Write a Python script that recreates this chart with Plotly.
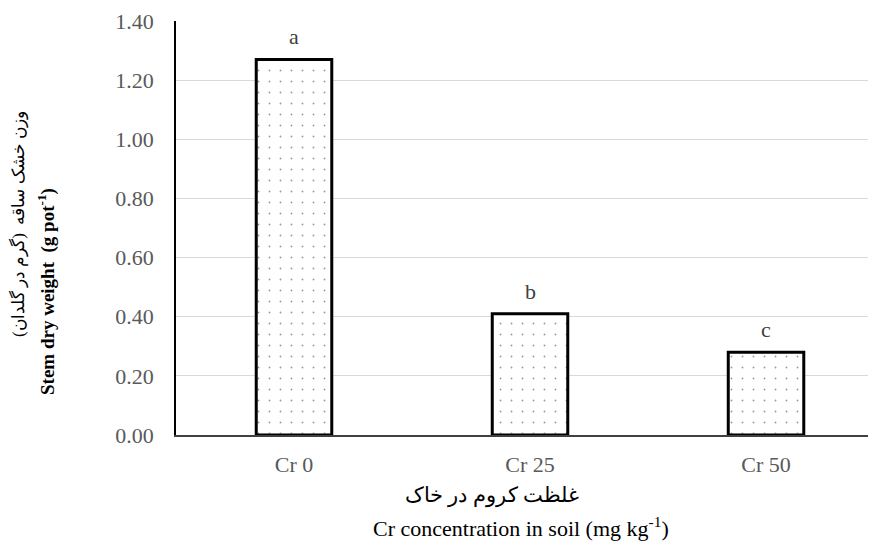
import plotly.graph_objects as go

categories = ["Cr 0", "Cr 25", "Cr 50"]
values = [1.27, 0.41, 0.28]
letters = ["a", "b", "c"]
y_ticks = [0, 0.2, 0.4, 0.6, 0.8, 1.0, 1.2, 1.4]

W, H = 876, 550
OFF = 8  # page body margin offset
L, T = 176 - OFF, 21 - OFF
B = H - (435 - OFF)
R = W - (876 - OFF)

serif = "Liberation Serif"

fig = go.Figure()
fig.add_trace(go.Bar(
    x=categories, y=values, width=0.32,
    marker=dict(
        color="white",
        line=dict(color="black", width=3),
        pattern=dict(shape=".", size=11, solidity=0.022, fgcolor="#333333", bgcolor="white"),
    ),
    showlegend=False, hoverinfo="skip",
))

for c, v, t in zip(categories, values, letters):
    fig.add_annotation(x=c, y=v, text=t, showarrow=False, yanchor="bottom", yshift=8,
                       font=dict(family=serif, size=22, color="#404040"))

# y titles
fig.add_annotation(xref="paper", yref="paper", x=0, y=0, xanchor="center", yanchor="middle",
                   xshift=(18 - OFF) - L, yshift=(H - B) - (224 - OFF), textangle=-90, showarrow=False,
                   text="وزن خشک ساقه  (گرم در گلدان)",
                   font=dict(family=serif, size=17, color="black"))
fig.add_annotation(xref="paper", yref="paper", x=0, y=0, xanchor="center", yanchor="middle",
                   xshift=(46 - OFF) - L, yshift=(H - B) - (292 - OFF), textangle=-90, showarrow=False,
                   text="<b>Stem dry weight  (g pot<sup>-1</sup>)</b>",
                   font=dict(family=serif, size=19, color="black"))
# x titles
fig.add_annotation(xref="paper", yref="paper", x=0, y=0, xanchor="center", yanchor="middle",
                   xshift=(492 - OFF) - L, yshift=-((495 - OFF) - (H - B)), showarrow=False,
                   text="غلظت کروم در خاک",
                   font=dict(family=serif, size=21, color="black"))
fig.add_annotation(xref="paper", yref="paper", x=0, y=0, xanchor="center", yanchor="middle",
                   xshift=(521 - OFF) - L, yshift=-((527 - OFF) - (H - B)), showarrow=False,
                   text="Cr concentration in soil (mg kg<sup>-1</sup>)",
                   font=dict(family=serif, size=22, color="black"))

fig.update_layout(
    width=W, height=H,
    margin=dict(l=L, r=R, t=T, b=B, autoexpand=False),
    paper_bgcolor="white", plot_bgcolor="white",
    xaxis=dict(range=[-0.5, 2.466], showgrid=False, showline=True, linecolor="#404040", linewidth=1.5,
               ticks="outside", ticklen=9, tickcolor="rgba(0,0,0,0)",
               tickfont=dict(family=serif, size=22, color="#595959"), fixedrange=True),
    yaxis=dict(range=[0, 1.4], tickvals=y_ticks, tickformat=".2f", showgrid=True,
               gridcolor="#d9d9d9", gridwidth=1, showline=True, linecolor="black", linewidth=1.5,
               ticks="outside", ticklen=16, tickcolor="rgba(0,0,0,0)", zeroline=False,
               tickfont=dict(family=serif, size=22, color="#595959"), fixedrange=True),
)

fig.write_html("out.html")
